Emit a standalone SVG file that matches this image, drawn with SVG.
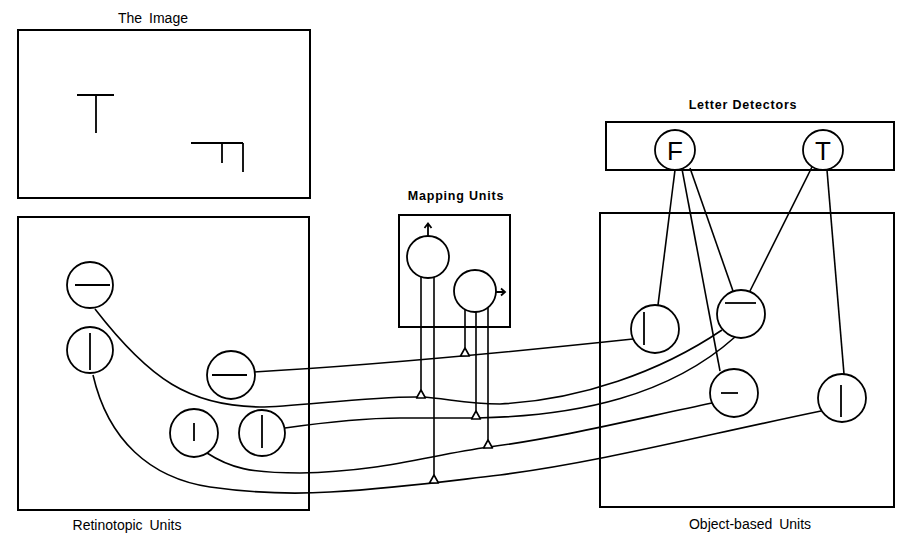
<svg xmlns="http://www.w3.org/2000/svg" width="901" height="537" viewBox="0 0 901 537">
  <style>
    .panel { fill: none; stroke: #000; stroke-width: 2; }
    .unit { fill: #fff; stroke: #000; stroke-width: 1.8; }
    .mark { fill: none; stroke: #000; stroke-width: 1.8; stroke-linecap: butt; }
    .wire { fill: none; stroke: #000; stroke-width: 1.6; }
    .gate { fill: #fff; stroke: #000; stroke-width: 1.6; stroke-linejoin: round; }
    .label { font-family: "Liberation Sans", Arial, sans-serif; font-size: 14px; fill: #000; text-anchor: middle; word-spacing: 3px; }
    .title { font-family: "Liberation Sans", Arial, sans-serif; font-size: 12.5px; font-weight: bold; fill: #000; text-anchor: middle; letter-spacing: 0.8px; }
    .letter { font-family: "Liberation Sans", Arial, sans-serif; font-size: 26px; fill: #000; text-anchor: middle; }
  </style>

  <!-- input image with two letter shapes -->
  <g id="image">
    <text class="label" x="153" y="23">The Image</text>
    <rect class="panel" x="18" y="30" width="292" height="168"/>
    <path class="mark" d="M77,95 H114 M96,95 V133"/>
    <path class="mark" d="M191,143 H243 M222,143 V163 M243,143 V172"/>
  </g>

  <!-- retinotopic feature units -->
  <g id="retinotopic">
    <rect class="panel" x="18" y="217" width="291" height="293"/>
    <text class="label" x="127" y="530">Retinotopic Units</text>
  </g>

  <!-- mapping units -->
  <g id="mapping">
    <text class="title" x="456" y="200">Mapping Units</text>
    <rect class="panel" x="399" y="215" width="111" height="112"/>
  </g>

  <!-- letter detectors -->
  <g id="letters">
    <text class="title" x="743" y="109">Letter Detectors</text>
    <rect class="panel" x="606" y="122" width="288" height="48"/>
  </g>

  <!-- object-based units -->
  <g id="object">
    <rect class="panel" x="600" y="213" width="294" height="294"/>
    <text class="label" x="750" y="529">Object-based Units</text>
  </g>

  <!-- connectors -->
  <g id="connectors">
    <!-- retinotopic to object-based pathways -->
    <path class="wire" d="M254,372 C360,366 520,351 633,339"/>
    <path class="wire" d="M95,309 C150,380 190,406 260,407 C295,407 370,396 421,397 C445,398 465,404 500,404 C580,400 660,372 722,330"/>
    <path class="wire" d="M285,428 C320,423 360,418 400,418 L477,418 C580,416 670,395 735,337"/>
    <path class="wire" d="M207,453 C230,468 250,473 300,473 C380,472 430,455 489,447 C560,438 640,418 712,403"/>
    <path class="wire" d="M93,375 C108,440 150,478 210,487 C260,494 300,494 330,492 C400,488 440,482 500,475 C600,462 700,436 821,411"/>

    <!-- mapping unit control lines -->
    <path class="wire" d="M421,277 V390"/>
    <path class="wire" d="M434,277 V475"/>
    <path class="wire" d="M465,309 V348"/>
    <path class="wire" d="M476,312 V411"/>
    <path class="wire" d="M488,307 V440"/>
    <polygon class="gate" points="465,348 460.5,356 469.5,356"/>
    <polygon class="gate" points="421,390 416.5,398 425.5,398"/>
    <polygon class="gate" points="476,411 471.5,419 480.5,419"/>
    <polygon class="gate" points="488,440 483.5,448 492.5,448"/>
    <polygon class="gate" points="434,475 429.5,483 438.5,483"/>

    <!-- object-based units to letter detectors -->
    <path class="wire" d="M675,170 L658,305"/>
    <path class="wire" d="M682,169 L720,371"/>
    <path class="wire" d="M690,168 L733,291"/>
    <path class="wire" d="M812,167 L750,291"/>
    <path class="wire" d="M827,170 L844,374"/>
  </g>

  <!-- retinotopic units -->
  <g id="r-h1"><circle class="unit" cx="90" cy="285" r="23"/><path class="mark" d="M75,285 H110"/></g>
  <g id="r-v1"><circle class="unit" cx="90" cy="350" r="23"/><path class="mark" d="M90,333 V370"/></g>
  <g id="r-h2"><circle class="unit" cx="231" cy="375" r="24"/><path class="mark" d="M212,375 H247"/></g>
  <g id="r-v2"><circle class="unit" cx="194" cy="433" r="24"/><path class="mark" d="M194,423 V441"/></g>
  <g id="r-v3"><circle class="unit" cx="262" cy="433" r="23"/><path class="mark" d="M262,415 V448"/></g>

  <!-- mapping units -->
  <g id="map-up">
    <circle class="unit" cx="428" cy="257" r="21"/>
    <path class="mark" d="M428,236 V224 M424.5,228 L428,223.5 L431.5,228"/>
  </g>
  <g id="map-right">
    <circle class="unit" cx="475" cy="291" r="21"/>
    <path class="mark" d="M496,292 H505 M501,288.5 L505,292 L501,295.5"/>
  </g>

  <!-- letter detector units -->
  <g id="det-f"><circle class="unit" cx="675" cy="150" r="20"/><text class="letter" x="675" y="159.5">F</text></g>
  <g id="det-t"><circle class="unit" cx="823" cy="150" r="20"/><text class="letter" x="823" y="159.5">T</text></g>

  <!-- object-based units -->
  <g id="o-v1"><circle class="unit" cx="655" cy="329" r="24"/><path class="mark" d="M644,312 V345"/></g>
  <g id="o-h1"><circle class="unit" cx="741" cy="314" r="24"/><path class="mark" d="M725,303 H756"/></g>
  <g id="o-h2"><circle class="unit" cx="734" cy="393" r="24"/><path class="mark" d="M721,393 H738"/></g>
  <g id="o-v2"><circle class="unit" cx="842" cy="398" r="24"/><path class="mark" d="M841,385 V417"/></g>
</svg>
